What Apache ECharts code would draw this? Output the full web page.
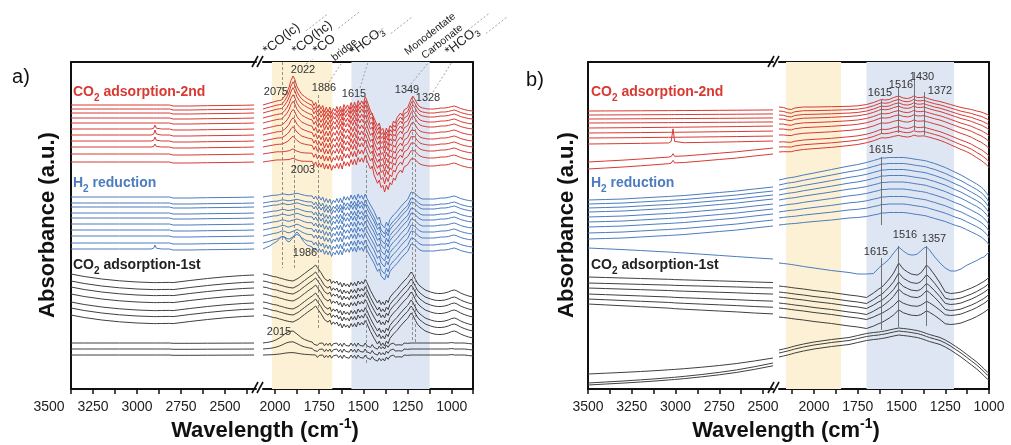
<!DOCTYPE html>
<html><head><meta charset="utf-8">
<script src="https://cdn.jsdelivr.net/npm/echarts@6/dist/echarts.min.js"></script>
<style>html,body{margin:0;padding:0;background:#fff}#c{width:1011px;height:445px}</style>
</head><body><div id="c"></div>
<script>
// ================= DATA =================
// ---- Panel a, left segment (x in cm-1 as printed on the axis) ----
const A_X1 = [3375,3300,3200,3100,3000,2920,2905,2898,2890,2860,2815,2805,2795,2700,2600,2500,2400,2335];
const A_FLAT1 = [0,0,0,0,0,0,0,0,0,0,0,-0.5,-1,-1,-0.7,-0.5,-0.3,0];
const A_SPIKE1 = [0,0,0,0,0,0,0.2,1,0.2,0,0,0,0,0,0,0,0,0];
const A_BLACK1 = [0,-2.5,-5,-6.8,-8,-8.5,-8.6,-8.6,-8.6,-8.5,-8.4,-8.8,-8.6,-6.5,-4.5,-2.8,-1.5,-1];
// ---- Panel a, right segment ----
const A_X2 = [2068,2050,2030,2010,1990,1975,1962,1955,1945,1932,1920,1910,1898,1888,1876,1862,1848,1833,1818,1803,
1790,1780,1770,1760,1750,1740,1730,1720,1710,1700,1690,1680,1670,1660,1650,1640,1630,1620,1610,1600,
1590,1580,1570,1560,1550,1540,1530,1520,1510,1500,1490,1480,1470,1460,1450,1440,1430,1420,1410,1400,
1390,1380,1370,1360,1350,1340,1330,1320,1310,1300,1290,1280,1270,1260,1250,1240,1230,1220,1210,
1195,1180,1165,1150,1135,1120,1100,1080,1060,1040,1020,1000,985,970,950,930,905,880];
const A_VAPOR = [0,0,0,0,0,0,0,0,0,0, 0,0,0,0,0,0,0,0,0,0,
0,-5,0,-7,-1,-6,0,-8,-1,-7, 0,-9,-2,-6,0,-8,-1,-10,0,-7, -2,-9,0,-8,-1,-10,0,-7,-2,-9,
0,-8,-1,-10,0,-7,-1,-9,0,-8, -2,-10,0,-8,-1,-7,0,-6,-1,-5, 0,-6,0,-4,-1,-5,0,-3,0,
0,0,0,0,0,0,0,0,0, 0,0,0,0,0,0,0,0,0];
const RED_A_BASE = [0,0.5,1,1.5,2,2,2,2,2,2, 2,2.5,3,2.5,1.5,1,0.5,0.5,0.5,0.5,
0.5,0,0,0,-0.5,-1,-1,-1.5,-1.5,-2, -2,-2,-2,-2,-1.5,-1,-0.5,0,0.5,1, 1.5,2,2.5,3,3.5,4,4.5,5,5.5,6,
6.5,7,4,0,-4,-8,-12,-15,-18,-20, -22,-23,-23,-22,-20,-18,-16,-14,-12,-10, -8,-6.5,-5,-3.5,-2,0,3,6,3,
0,-2,-3,-3.5,-4,-4,-4,-3.5,-3,-3,-2.5,-1.5,-1,-2,-3.5,-4.5,-5.5,-6];
const RED_A_BAND = [0,0.5,1,1.5,2,2.5,3,4,7,11, 16,22,26,23,17,13,10,8,6,4.5,
3.5,3,2.5,2,1.5,1,0.5,0,0,0, 0,0,0,0,0,0,0,0,0,0, 0,0,0,0,0,0,0,0,0,1,
2,3,2,1,0,0,0,0,0,0, 0,0,0,0,0,0,0,0,0,0, 0,0,0,0,0,1,3,5,3,
1,0,0,0,0,0,0,0,0, 0,0,0,0,0,0,0,0,0];
const BLUE_A_BASE = [0,0.5,1,1.5,1.5,2,2.5,3,2.5,2, 2,2,2.5,2.5,3,2.5,2,1.5,1,1,
1,1,1,1.5,1,0.5,0,-0.5,-1,-1.5, -2,-2,-2,-2,-1.5,-1,-0.5,0,0.5,1, 1.5,2,2,2.5,2.5,3,3,3,3,3,
3,3.5,1,-2,-6,-10,-14,-17,-20,-22, -24,-25,-25,-24,-22,-20,-18,-16,-14,-12, -10,-8,-6,-4,-2,1,5,8,4,
1,-1,-2,-2,-2,-2,-2,-1.5,-1,-1,-0.5,0.5,1,0,-1.5,-2.5,-3.5,-4];
const BLUE_A_BAND = [0,1,2,4,6,8,10,11,9,6, 5,6,9,12,14,12,8,5,3,2,
1,0,0,0,0,0,0,0,0,0, 0,0,0,0,0,0,0,0,0,0, 0,0,0,0,0,0,0,0,0,0,
0,0,0,0,0,0,0,0,0,0, 0,0,0,0,0,0,0,0,0,0, 0,0,0,0,0,0,0,0,0,
0,0,0,0,0,0,0,0,0, 0,0,0,0,0,0,0,0,0];
const BLACKU_A_BASE = [0,-0.5,-1.5,-2.5,-3,-4,-4.5,-5,-5.5,-6, -6.5,-7,-7,-6.5,-5,-3.5,-1.5,0.5,2.5,4.5,
6,7.5,9,9.5,7,4,1.5,-1,-3,-4, -5,-5.5,-6,-6.5,-7,-7.5,-8,-8.5,-9,-9, -9,-9,-8.5,-8,-8,-7.5,-7,-7,-6.5,-6,
-5.5,-5,-8,-12,-16,-20,-23,-25,-26,-27, -27,-26.5,-26,-25,-23,-21,-19,-17,-15,-13, -11,-9,-7,-5,-3,-1,2,1,-4,
-9,-12,-14,-16,-17,-18,-19,-19.5,-19.5,-19,-18,-16.5,-16,-17,-19,-20.5,-22,-23];
const BLACKL_A_BASE = [0,0,0,0,0,0,0,0,0,0, 0,0,0,0,0,0,0,0,0,0,
0,0,0,0,0,0,0,0,0,0, 0,0,0,0,0,0,0,0,0,0, 0,0,0,0,0,0,0,0,0,0,
0,0,-0.5,-1,-1.5,-2,-2.5,-3,-3,-3, -3,-2.5,-2,-1.5,-1,-0.5,0,0,0,0, 0,0,0,0,0,0,0,0,0,
0,0,0,0,0,0,0,0,0, 0,0,0.5,0,0,0,0,-0.5,-1];
const BLACKL_A_BAND = [0,0.5,1,2,3.5,5,6.5,7.5,9,10.5, 11.5,12,12,11,9,7,5,3.5,2.5,1.5,
1,0.5,0,0,0,0,0,0,0,0, 0,0,0,0,0,0,0,0,0,0, 0,0,0,0,0,0,0,0,0,0,
0,0,0,0,0,0,0,0,0,0, 0,0,0,0,0,0,0,0,0,0, 0,0,0,0,0,0,0,0,0,
0,0,0,0,0,0,0,0,0, 0,0,0,0,0,0,0,0,0];
// per-spectrum stacking offsets / band intensities (panel a)
const RED_A_OFF = [284,280,276,271,266,260,254,248,242,235,227];
const RED_A_INT = [1,0.93,0.86,0.78,0.72,0.64,0.55,0.44,0.3,0.08,0.03];
const RED_A_SPK = [0,0,0,0,0,4,5,4,3,0,0];
const BLUE_A_OFF = [192,186,182,176,171,165,159,153,146,140];
const BLUE_A_INT = [0.05,0.05,0.08,0.1,0.12,0.15,0.2,0.25,0.4,1];
const BLUE_A_SPK = [0,0,0,0,0,0,0,0,0,4];
const BLACKU_A_OFF = [115,108,102,95,87,81,74];
const BLACKL_A_OFF = [46,40,34];
const BLACKL_A_INT = [1,0.6,0.2];
const VAPOR_A = {red:0.7, blue:0.6, blackU:0.45, blackL:0.35};

// ---- Panel b, left segment ----
const B_X1 = [3500,3400,3300,3200,3100,3040,3025,3014,3005,2950,2850,2750,2650,2550,2443];
const B_SPIKE1 = [0,0,0,0,0,0,0.1,1,0.1,0,0,0,0,0,0];
const RED_B_TILT1 = [0,1,2,3.2,4.5,5.3,5.5,5.7,5.8,6.5,8,9.5,11,13,15];
const BLUE_B_RISE1 = [0,0.5,1,2,3,3.5,3.7,3.8,3.9,4.5,6,7.5,9,11,13];
const BLUE_B_LOW1 = [0,-0.8,-1.6,-2.5,-3.5,-4,-4.2,-4.3,-4.4,-5,-6.2,-7.4,-8.6,-9.8,-11];
const BLACK_B_U1 = [0,-0.5,-1,-1.5,-2,-2.3,-2.4,-2.5,-2.6,-2.9,-3.4,-3.9,-4.4,-5,-5.5];
const BLACK_B_L1 = [0,0.8,1.6,2.5,3.5,4.2,4.4,4.5,4.6,5.3,6.8,8.5,10.5,13,16];
const RED_B_OFF1 = [278,274,270,266,261,256,251,245,227,220];
const RED_B_W1 = [0.07,0.07,0.07,0.07,0.13,0.13,0.13,0.2,0.93,1];
const RED_B_SPK1 = [0,0,0,0,0,0,0,14,3,3];
const BLUE_B_OFF1 = [189,185,181,177,172,167,162,156,150];
const BLUE_B_LOWOFF1 = 141;
const BLACK_B_OFF1 = [112,106,101,95,90,85];
const BLACK_B_W1 = [1,0.9,1.1,1.3,1.5,1.8];
const BLACK_B_LOFF1 = [15,6,4];
const BLACK_B_LW1 = [1,1.25,1.2];
// ---- Panel b, right segment ----
const B_X2 = [2200,2175,2150,2130,2110,2060,2000,1900,1800,1750,1700,1660,1630,1615,1595,1570,1545,1516,1490,1465,
1445,1430,1410,1390,1372,1357,1340,1310,1280,1250,1220,1190,1160,1130,1100,1070,1045,1030,1020,1010,1005,1000];
const RED_B_COMMON2 = [0,-0.5,-2,-2.5,-1,0,0,0.3,0.7,1.2, 2.5,4.5,6.5,7.5,7,7.5,9.5,11,9,8.5,
9.5,11,9.5,9.5,10,9,8,6.5,5.5,4, 2.5,1,-0.5,-1.5,-2.5,-4,-5,-6,-6.5,-7.5, -8,-9];
const RED_B_TILT2 = [0,1.5,4,5,4,4.5,6,7.7,10.3,11.3, 12,12,12,12,12.5,12.5,11,10,11.5,11.5,
11,10.5,11.5,11.5,11,11.5,12,12,11,10, 8.5,7,5.5,3.5,0.5,-3,-6,-8,-9.5,-10.5, -11.5,-12];
const BLUE_B_COMMON2 = [0,1,2,2.5,3,5,7,10.5,14,15.5, 17.5,19.5,21,22,22,22.5,22.5,22.5,22.5,22,
21.5,21,20.5,20,19.5,19,18,16.5,14.5,12.5, 10,7.5,5,2,-1,-4,-7,-9.5,-11.5,-14, -16,-17];
const BLUE_B_TILT2 = [0,-0.5,-1,-1.2,-1.5,-2.5,-3.5,-5.5,-7,-8, -9,-9.5,-10,-10,-10,-10,-10,-10,-10,-10,
-10,-10,-10,-10,-10,-10,-10,-10,-9.5,-9, -8.5,-8,-7,-6.5,-6,-5.5,-5,-4.5,-4,-3.5, -3,-3];
const BLUE_B_LOW2 = [0,-0.5,-1,-1.5,-2,-3.5,-5,-7.5,-9.5,-11, -11,-10.5,-5,-2.5,0,4,10,16,12,9,
8,8,9,12,15,16,13,6,0,-5, -8,-8,-6,-2.5,0,2.5,5,6,7,9, 10,11];
const BLACK_B_BASE2 = [0,-0.5,-1,-1.5,-2,-3,-4.5,-6.5,-9,-10, -11.5,-11,-10,-9.5,-9,-8.5,-8,-7.5,-7.5,-7.5,
-7.5,-7.5,-7.5,-7.5,-7.5,-7.5,-7.5,-7.5,-7.5,-7.5, -7.5,-7,-6,-4,-2,0.5,3,4.5,5.5,7, 8,9];
const BLACK_B_BAND2 = [0,0,0,0,0,0,0,0,0,0, 0,4,7,8,11,15.5,21,30.5,24.5,21.5,
19.5,19,18.5,20.5,24.5,28.5,25.5,18.5,10.5,1.5, 0,0,0,0,0,0,0,0,0,0, 0,0];
const BLACK_B_L2 = [0,1,2,3,4,6,8,10.5,12.5,14.5, 16.5,17.5,18,18.5,19,20,21,22,21.5,21,
20.5,20,19.5,18.5,17.5,16.5,15.5,14,12.5,10, 7,3.5,0,-4,-8,-12,-16,-18.5,-20,-22, -22.5,-23];
const RED_B_OFF2 = [282,278,274,270,265,260,254,247,242,237];
const RED_B_W2 = [0,0.06,0.12,0.18,0.25,0.31,0.38,0.44,0.5,0.56];
const BLUE_B_OFF2 = [209,204,199,194,189,183,177,171,164];
const BLUE_B_W2 = [0,0.1,0.2,0.3,0.45,0.55,0.7,0.85,1];
const BLUE_B_LOWOFF2 = 126;
const BLACK_B_OFF2 = [103,97,92,86,81,72];
const BLACK_B_INT2 = [1,0.87,0.74,0.7,0.5,0.48];
const BLACK_B_LOFF2 = [39,36,32];

// ---- axis ticks / labels ----
const A1_TICKS = [3375,3250,3125,3000,2875,2750,2625,2500,2375];
const A1_LABELS = [3250,3000,2750,2500];
const A0_LABELS = [3500];
const A2_TICKS = [2000,1875,1750,1625,1500,1375,1250,1125,1000,880];
const A2_LABELS = [2000,1750,1500,1250,1000];
const B1_TICKS = [3500,3375,3250,3125,3000,2875,2750,2625,2500];
const B1_LABELS = [3500,3250,3000,2750,2500];
const B2_TICKS = [2125,2000,1875,1750,1625,1500,1375,1250,1125,1000];
const B2_LABELS = [2000,1750,1500,1250,1000];

// ---- bands & peak marks ----
const A_BANDS = [[2017,1676,'yellow'],[1568,1125,'blue']];
const B_BANDS = [[2160,1845,'yellow'],[1700,1200,'blue']];
const A_DASHED = [[1960,327,121],[1892,309,121],[1756,294,59],[1486,289,24],[1222,292,47],[1205,285,47]];
const B_SOLID = [[1615,289,255],[1516,302,256],[1430,317,259],[1372,297,254],[1615,232,164],[1615,131,59],[1516,143,62],[1357,143,63]];
const A_PEAK_LABELS = [['2075',276,92],['2022',303,70],['1886',324,88],['1615',354,94],['1349',407,90],['1328',428,98],['2003',303,170],['1986',305,253],['2015',279,332]];
const B_PEAK_LABELS = [['1615',880,93],['1516',901,85],['1430',922,77],['1372',940,91],['1615',881,150],['1615',876,252],['1516',905,235],['1357',934,239]];
const ASSIGN = [
  {t:'{m|*CO(lc)}', x:270, y:59, len:43},
  {t:'{m|*CO(hc)}', x:299, y:59, len:47},
  {t:'{m|*CO}', x:320, y:59, len:0},
  {t:'{k|bridge}', x:337, y:64, len:29},
  {t:'{m|*HCO}{s|3}', x:357, y:60, len:40},
  {t:'{k|Monodentate}', x:410, y:58, len:0},
  {t:'{k|Carbonate}', x:427, y:62, len:49},
  {t:'{m|*HCO}{s|3}', x:452, y:60, len:40}
];
// connectors from peak numbers up to the assignments
const A_CONNECT = [[306,64,313,59],[329,82,341,64],[360,88,368,62],[411,84,428,63],[433,92,452,62]];

// ================= BUILD =================
const RED='#d83a32', BLUE='#4b7cc0', BLK='#404040';
const YEL='#fcf1d4', BLU='#dfe6f3';
const FONT='"Liberation Sans", Arial, sans-serif';

function spectrum(xs, off, parts){
  return xs.map((x,j)=>{let y=off; for(const [arr,w] of parts) y+=w*arr[j]; return [x, Math.round(y*100)/100];});
}
const series=[];
function add(grid, data, color){
  series.push({type:'line', xAxisIndex:grid, yAxisIndex:grid, data, symbol:'none', showSymbol:false,
    lineStyle:{width:1, color}, silent:true, z:3, animation:false});
}
// panel a
RED_A_OFF.forEach((o,i)=>{
  add(0, spectrum(A_X1,o,[[A_FLAT1,1],[A_SPIKE1,RED_A_SPK[i]]]), RED);
  add(1, spectrum(A_X2,o,[[RED_A_BASE,1],[RED_A_BAND,RED_A_INT[i]],[A_VAPOR,VAPOR_A.red]]), RED);
});
BLUE_A_OFF.forEach((o,i)=>{
  add(0, spectrum(A_X1,o,[[A_FLAT1,1],[A_SPIKE1,BLUE_A_SPK[i]]]), BLUE);
  add(1, spectrum(A_X2,o,[[BLUE_A_BASE,1],[BLUE_A_BAND,BLUE_A_INT[i]],[A_VAPOR,VAPOR_A.blue]]), BLUE);
});
BLACKU_A_OFF.forEach((o)=>{
  add(0, spectrum(A_X1,o,[[A_BLACK1,1]]), BLK);
  add(1, spectrum(A_X2,o,[[BLACKU_A_BASE,1],[A_VAPOR,VAPOR_A.blackU]]), BLK);
});
BLACKL_A_OFF.forEach((o,i)=>{
  add(0, spectrum(A_X1,o,[[A_FLAT1,0.3]]), BLK);
  add(1, spectrum(A_X2,o,[[BLACKL_A_BASE,1],[BLACKL_A_BAND,BLACKL_A_INT[i]],[A_VAPOR,VAPOR_A.blackL]]), BLK);
});
// panel b
RED_B_OFF1.forEach((o,i)=>{
  add(2, spectrum(B_X1,o,[[RED_B_TILT1,RED_B_W1[i]],[B_SPIKE1,RED_B_SPK1[i]]]), RED);
  add(3, spectrum(B_X2,RED_B_OFF2[i],[[RED_B_COMMON2,1],[RED_B_TILT2,RED_B_W2[i]]]), RED);
});
BLUE_B_OFF1.forEach((o,i)=>{
  add(2, spectrum(B_X1,o,[[BLUE_B_RISE1,1]]), BLUE);
  add(3, spectrum(B_X2,BLUE_B_OFF2[i],[[BLUE_B_COMMON2,1],[BLUE_B_TILT2,BLUE_B_W2[i]]]), BLUE);
});
add(2, spectrum(B_X1,BLUE_B_LOWOFF1,[[BLUE_B_LOW1,1]]), BLUE);
add(3, spectrum(B_X2,BLUE_B_LOWOFF2,[[BLUE_B_LOW2,1]]), BLUE);
BLACK_B_OFF1.forEach((o,i)=>{
  add(2, spectrum(B_X1,o,[[BLACK_B_U1,BLACK_B_W1[i]]]), BLK);
  add(3, spectrum(B_X2,BLACK_B_OFF2[i],[[BLACK_B_BASE2,1],[BLACK_B_BAND2,BLACK_B_INT2[i]]]), BLK);
});
BLACK_B_LOFF1.forEach((o,i)=>{
  add(2, spectrum(B_X1,o,[[BLACK_B_L1,BLACK_B_LW1[i]]]), BLK);
  add(3, spectrum(B_X2,BLACK_B_LOFF2[i],[[BLACK_B_L2,1]]), BLK);
});
// bands
function bandSeries(grid, bands){
  series.push({type:'line', xAxisIndex:grid, yAxisIndex:grid, data:[], z:1, silent:true,
    markArea:{silent:true, data: bands.map(b=>[{xAxis:b[0], itemStyle:{color: b[2]==='yellow'?YEL:BLU}},{xAxis:b[1]}])}});
}
bandSeries(1, A_BANDS); bandSeries(3, B_BANDS);
// peak guide lines
series.push({type:'line', xAxisIndex:1, yAxisIndex:1, data:[], z:4, silent:true,
  markLine:{silent:true, symbol:'none', label:{show:false}, lineStyle:{type:[3,2], color:'#777', width:0.8},
    data: A_DASHED.map(d=>[{coord:[d[0],d[1]]},{coord:[d[0],d[2]]}])}});
series.push({type:'line', xAxisIndex:3, yAxisIndex:3, data:[], z:4, silent:true,
  markLine:{silent:true, symbol:'none', label:{show:false}, lineStyle:{type:'solid', color:'#666', width:0.9},
    data: B_SOLID.map(d=>[{coord:[d[0],d[1]]},{coord:[d[0],d[2]]}])}});

const grids=[
  {left:71, top:62, width:185, height:327},
  {left:263, top:62, width:210, height:327},
  {left:588, top:62, width:185, height:327},
  {left:779, top:62, width:210, height:327},
  {left:49, top:62, width:22, height:327}
];
const RANGES=[[2324,3375],[880,2068],[2443,3500],[1000,2200],[3375,3500]];
const TICKS=[A1_TICKS,A2_TICKS,B1_TICKS,B2_TICKS,[]];
const LABELS=[A1_LABELS,A2_LABELS,B1_LABELS,B2_LABELS,A0_LABELS];
const lineStyle={color:'#111', width:2};
const xAxis=[], yAxis=[];
for(let g=0; g<5; g++){
  xAxis.push({type:'value', gridIndex:g, inverse:true, min:RANGES[g][0], max:RANGES[g][1], position:'bottom',
    axisLine:{show:g<4, onZero:false, lineStyle}, splitLine:{show:false},
    axisTick:{show:g<4, customValues:TICKS[g], length:5, lineStyle:{color:'#111', width:1.5}},
    axisLabel:{customValues:LABELS[g], formatter:v=>String(v), fontSize:14, color:'#222', fontFamily:FONT, margin:11, showMinLabel:true, showMaxLabel:true}});
}
for(let g=0; g<4; g++){
  xAxis.push({type:'value', gridIndex:g, inverse:true, min:RANGES[g][0], max:RANGES[g][1], position:'top',
    axisLine:{show:true, onZero:false, lineStyle}, axisTick:{show:false}, axisLabel:{show:false}, splitLine:{show:false}});
}
for(let g=0; g<5; g++){
  yAxis.push({type:'value', gridIndex:g, min:0, max:327, position:(g===1||g===3)?'right':'left',
    axisLine:{show:g<4, onZero:false, lineStyle}, axisTick:{show:false}, axisLabel:{show:false}, splitLine:{show:false}});
}

// ---- graphic: texts & decorations ----
const G=[];
function txt(x,y,text,o={}){
  G.push({type:'text', x, y, rotation:o.rot||0, z:10, silent:true,
    style:{text, fontSize:o.size||11, fontWeight:o.bold?'bold':'normal', fontFamily:FONT, fill:o.color||'#333',
      textAlign:o.align||'center', textVerticalAlign:o.va||'middle', rich:o.rich}});
}
function rich(color,size){
  return {m:{fontSize:size, fontWeight:'bold', fill:color, fontFamily:FONT, lineHeight:22},
          s:{fontSize:Math.round(size*0.72), fontWeight:'bold', fill:color, fontFamily:FONT, verticalAlign:'bottom', lineHeight:13}};
}
const GROUPS=[['{m|CO}{s|2}{m| adsorption-2nd}',RED,92],['{m|H}{s|2}{m| reduction}',BLUE,183],['{m|CO}{s|2}{m| adsorption-1st}','#222',265]];
GROUPS.forEach(g=>{ txt(73,g[2],g[0],{align:'left',rich:rich(g[1],14)}); txt(591,g[2],g[0],{align:'left',rich:rich(g[1],14)}); });
txt(21,77,'a)',{size:20,color:'#111'}); txt(535,80,'b)',{size:20,color:'#111'});
const ytRich={t:{fontSize:22,fontWeight:'bold',fill:'#111',fontFamily:FONT}};
txt(48,225,'{t|Absorbance (a.u.)}',{rot:Math.PI/2,rich:ytRich});
txt(567,225,'{t|Absorbance (a.u.)}',{rot:Math.PI/2,rich:ytRich});
const xtRich={t:{fontSize:22,fontWeight:'bold',fill:'#111',fontFamily:FONT,lineHeight:28},p:{fontSize:14,fontWeight:'bold',fill:'#111',fontFamily:FONT,verticalAlign:'top',lineHeight:22}};
txt(265,431,'{t|Wavelength (cm}{p|-1}{t|)}',{rich:xtRich});
txt(786,431,'{t|Wavelength (cm}{p|-1}{t|)}',{rich:xtRich});
A_PEAK_LABELS.concat(B_PEAK_LABELS).forEach(p=>txt(p[1],p[2],p[0],{size:11,color:'#333'}));
// rotated assignments with dashed leaders continuing past each label
const ANG=38*Math.PI/180, CA=Math.cos(ANG), SA=Math.sin(ANG);
const asRich={m:{fontSize:13,fill:'#222',fontFamily:FONT,lineHeight:17},
  s:{fontSize:9,fill:'#222',fontFamily:FONT,verticalAlign:'bottom',lineHeight:10},
  k:{fontSize:10.5,fill:'#222',fontFamily:FONT,lineHeight:13}};
const dash={stroke:'#8a8a8a', lineWidth:0.8, lineDash:[2,2]};
ASSIGN.forEach(a=>{
  txt(a.x,a.y,a.t,{rot:ANG,align:'left',va:'bottom',rich:asRich});
  if(a.len>0){
    const s=a.len+3, e=a.len+30;
    G.push({type:'line', silent:true, z:9, shape:{x1:a.x+s*CA, y1:a.y-s*SA, x2:a.x+e*CA, y2:a.y-e*SA}, style:dash});
  }
});
A_CONNECT.forEach(c=>G.push({type:'line', silent:true, z:9, shape:{x1:c[0],y1:c[1],x2:c[2],y2:c[3]}, style:dash}));
// axis breaks
[[252,393],[257,393],[252,67],[257,67],[768,393],[773,393],[768,67],[773,67]].forEach(p=>{
  G.push({type:'line', silent:true, z:11, shape:{x1:p[0],y1:p[1],x2:p[0]+6,y2:p[1]-11}, style:{stroke:'#111', lineWidth:1.6}});
});

const chart=echarts.init(document.getElementById('c'));
chart.setOption({animation:false, backgroundColor:'#fff', grid:grids, xAxis, yAxis, series, graphic:G});
</script></body></html>
